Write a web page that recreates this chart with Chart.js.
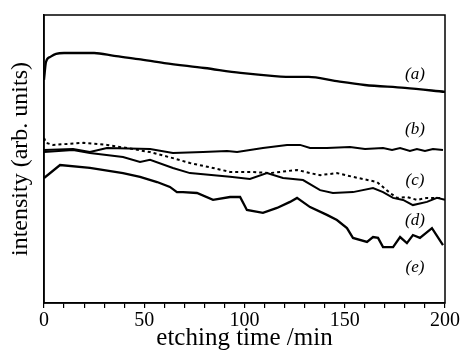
<!DOCTYPE html>
<html>
<head>
<meta charset="utf-8">
<script src="https://cdn.jsdelivr.net/npm/chart.js@4/dist/chart.umd.min.js"></script>
<style>
  body { margin: 0; background: #fff; }
</style>
</head>
<body>
<canvas id="myChart" width="463" height="352"></canvas>
<script>
// etching time (min) and intensity (arb. units)
var timeA = [0, 1, 3, 6, 10, 25, 35, 47, 60, 80, 98, 115, 125, 132, 145, 160, 180, 200];
var intA  = [77.5, 83.7, 85.4, 86.5, 86.8, 86.8, 85.8, 84.7, 83.3, 81.6, 79.9, 78.8, 78.5, 78.5, 77.1, 75.7, 74.7, 73.3];

var timeB = [0, 14.5, 22.9, 31.4, 52.9, 64.3, 79.3, 91.3, 96.3, 109.2, 121.2, 127.7, 132.7, 141.1, 152.6, 160.1, 169.1, 173.6, 177.6, 182.5, 186, 190, 194, 199];
var intB  = [53.1, 53.5, 52.4, 53.8, 53.5, 52.1, 52.4, 52.8, 52.4, 53.8, 54.9, 54.9, 53.8, 53.8, 54.2, 53.5, 53.8, 53.1, 53.8, 52.8, 53.5, 52.8, 53.5, 53.1];

var timeC = [0, 1, 4.5, 19.5, 31.4, 41.4, 52.9, 64.3, 72.8, 84.3, 92.8, 104.2, 112.7, 126.2, 132.7, 137.7, 146.1, 154.1, 166.1, 172.6, 176.1, 181, 186, 191, 199];
var intC  = [57.3, 55.6, 54.9, 55.6, 54.9, 53.8, 52.4, 50.3, 48.6, 46.9, 45.5, 45.5, 45.1, 46.2, 45.1, 44.4, 45.1, 43.8, 42.0, 38.2, 36.5, 36.8, 35.8, 36.5, 36.5];

var timeD = [0, 14.5, 22.9, 39.4, 47.9, 52.9, 64.3, 72.8, 92.8, 102.7, 111.2, 119.2, 129.2, 137.7, 144.1, 154.1, 164.1, 169.1, 174.1, 179.1, 184, 191, 196, 200];
var intD  = [52.4, 53.1, 52.1, 50.7, 49.0, 49.7, 46.9, 45.1, 43.8, 43.1, 45.1, 43.4, 42.7, 39.2, 38.2, 38.5, 39.9, 38.5, 36.5, 35.8, 34.0, 35.1, 36.5, 35.8];

var timeE = [0, 8, 22.9, 39.4, 47.9, 56.4, 62.8, 66.3, 69.3, 76.3, 84.3, 92.8, 97.8, 101.2, 109.2, 116.2, 122.7, 126.2, 132.7, 141.1, 146.1, 151.1, 154.1, 161.1, 164.1, 166.6, 169.1, 174.1, 177.6, 181, 184, 187.5, 193.5, 199];
var intE  = [43.4, 47.9, 46.9, 45.1, 43.8, 42.0, 40.3, 38.5, 38.5, 38.2, 35.8, 36.8, 36.8, 32.3, 31.3, 33.0, 35.1, 36.5, 33.3, 30.6, 28.8, 26.0, 22.6, 21.2, 22.9, 22.6, 19.4, 19.4, 22.9, 20.8, 23.6, 22.6, 26.0, 20.1];

var curveTags = ["(a)", "(b)", "(c)", "(d)", "(e)"];
var xTicks = [0, 50, 100, 150, 200];

function pts(xs, ys) {
  return xs.map(function (x, i) { return { x: x, y: ys[i] }; });
}

function line(xs, ys, extra) {
  var ds = {
    data: pts(xs, ys),
    borderColor: '#000',
    borderWidth: 2,
    pointRadius: 0,
    fill: false,
    tension: 0
  };
  return Object.assign(ds, extra || {});
}

// where the (a)..(e) tags sit, in axis units
var tagX = 185;
var tagY = [79.2, 60.1, 42.4, 28.8, 12.2];

var framePlugin = {
  id: 'frame',
  afterDatasetsDraw: function (chart) {
    var ctx = chart.ctx, a = chart.chartArea, s = chart.scales;
    ctx.save();
    ctx.strokeStyle = '#000';
    ctx.lineWidth = 1.5;
    ctx.strokeRect(a.left, a.top, a.right - a.left, a.bottom - a.top);
    ctx.fillStyle = '#000';
    ctx.font = 'italic 17px "Liberation Serif"';
    ctx.textAlign = 'center';
    ctx.textBaseline = 'middle';
    curveTags.forEach(function (t, i) {
      ctx.fillText(t, s.x.getPixelForValue(tagX), s.y.getPixelForValue(tagY[i]));
    });
    ctx.restore();
  }
};

var ctx = document.getElementById('myChart').getContext('2d');
var myChart = new Chart(ctx, {
  type: 'line',
  data: {
    datasets: [
      line(timeA, intA, { borderWidth: 2.3, tension: 0.4, cubicInterpolationMode: 'monotone' }),
      line(timeB, intB),
      line(timeC, intC, { borderDash: [3, 3] }),
      line(timeD, intD),
      line(timeE, intE, { borderWidth: 2.3 })
    ]
  },
  options: {
    responsive: false,
    animation: false,
    layout: { padding: { left: 0, right: 18, top: 15, bottom: 0 } },
    plugins: { legend: { display: false }, tooltip: { enabled: false } },
    scales: {
      x: {
        type: 'linear',
        min: 0,
        max: 200,
        afterFit: function (scale) { scale.height = 49; },
        grid: { drawOnChartArea: false, drawTicks: true, tickLength: 5, color: '#000', lineWidth: 1.2 },
        border: { display: true, color: '#000', width: 1.5 },
        ticks: {
          stepSize: 10,
          autoSkip: false,
          maxRotation: 0,
          padding: 1,
          color: '#000',
          font: { family: '"Liberation Serif"', size: 20 },
          callback: function (v) { return xTicks.indexOf(v) >= 0 ? String(v) : ''; }
        },
        title: {
          display: true,
          text: 'etching time /min',
          color: '#000',
          font: { family: '"Liberation Serif"', size: 25, lineHeight: 1 },
          padding: { top: 0, bottom: 1.5 }
        }
      },
      y: {
        min: 0,
        max: 100,
        afterFit: function (scale) { scale.width = 44; },
        grid: { display: false },
        border: { display: true, color: '#000', width: 1.5 },
        ticks: { display: false },
        title: {
          display: true,
          text: 'intensity (arb. units)',
          color: '#000',
          font: { family: '"Liberation Serif"', size: 24, lineHeight: 1 },
          padding: { top: 9, bottom: 0 }
        }
      }
    }
  },
  plugins: [framePlugin]
});
</script>
</body>
</html>
